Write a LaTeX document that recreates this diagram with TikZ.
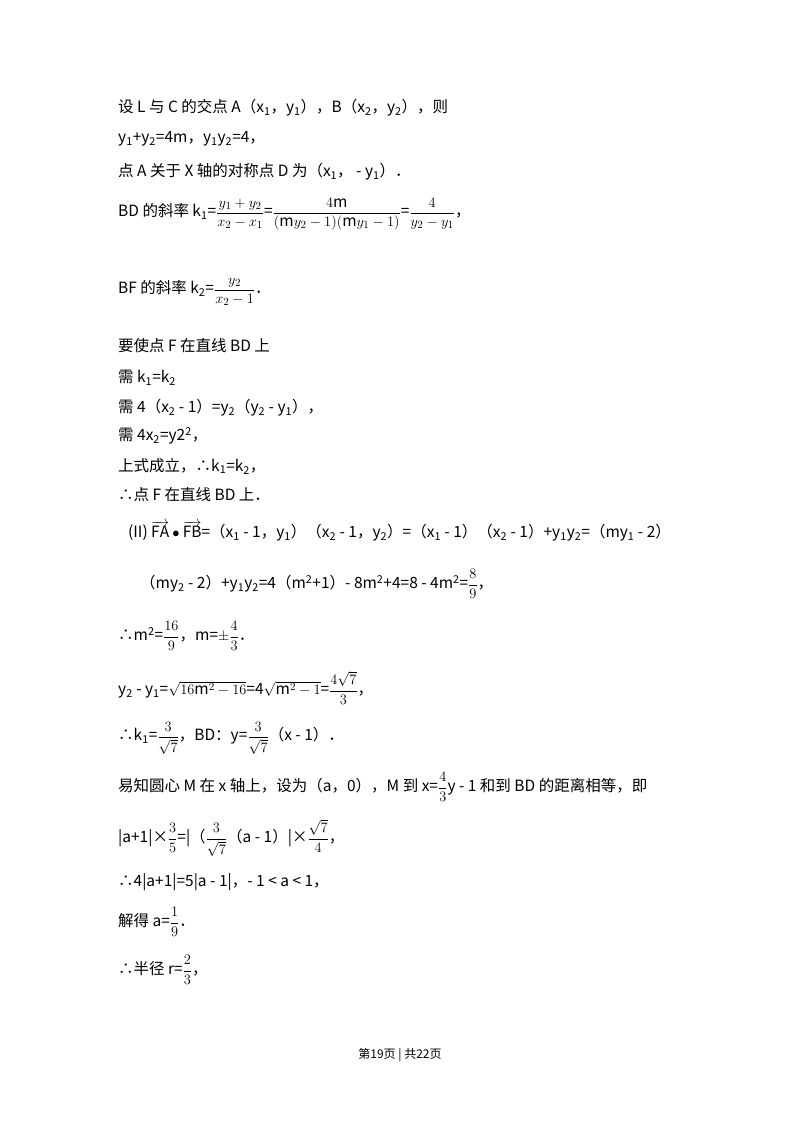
\documentclass[tikz,border=0pt]{standalone}
\usepackage{amsmath}
\usepackage{fontspec}
\setmainfont{Noto Sans CJK SC}
\newcommand\sbs[1]{\textsubscript{#1}}
\newcommand\sps[1]{\textsuperscript{#1}}
\newcommand\fr[2]{$\dfrac{#1}{#2}$}
\tikzset{ln/.style={anchor=west,inner sep=0pt,font=\fontsize{15.5}{18}\selectfont}}
\begin{document}
\begin{tikzpicture}[x=1pt,y=-1pt]
\useasboundingbox[fill=white] (0,0) rectangle (800,1132);
\node[ln] (l1) at (118,108) {设 L 与 C 的交点 A（x\sbs1，y\sbs1），B（x\sbs2，y\sbs2），则};
\node[ln] (l2) at (118,139) {y\sbs1+y\sbs2=4m，y\sbs1y\sbs2=4，};
\node[ln] (l3) at (118,172) {点 A 关于 X 轴的对称点 D 为（x\sbs1，\ - y\sbs1）．};
\node[ln] (l4) at (118,214) {BD 的斜率 k\sbs1=\fr{y_1+y_2}{x_2-x_1}=\fr{4\mathrm{m}}{(\mathrm{m}y_2-1)(\mathrm{m}y_1-1)}=\fr{4}{y_2-y_1}，};
\node[ln] (l5) at (118,292) {BF 的斜率 k\sbs2=\fr{y_2}{x_2-1}．};
\node[ln] (l6) at (118,346) {要使点 F 在直线 BD 上};
\node[ln] (l7) at (118,378) {需 k\sbs1=k\sbs2};
\node[ln] (l8) at (118,408) {需 4（x\sbs2 - 1）=y\sbs2（y\sbs2 - y\sbs1），};
\node[ln] (l9) at (118,436) {需 4x\sbs2=y2\sps2，};
\node[ln] (l10) at (118,466) {上式成立，∴k\sbs1=k\sbs2，};
\node[ln] (l11) at (118,495) {∴点 F 在直线 BD 上．};
\node[ln] (l12) at (128,531) {(II) $\overrightarrow{\mathrm{FA}}\bullet\overrightarrow{\mathrm{FB}}$=（x\sbs1 - 1，y\sbs1）（x\sbs2 - 1，y\sbs2）=（x\sbs1 - 1）（x\sbs2 - 1）+y\sbs1y\sbs2=（my\sbs1 - 2）};
\node[ln] (l13) at (140,584) {（my\sbs2 - 2）+y\sbs1y\sbs2=4（m\sps2+1）- 8m\sps2+4=8 - 4m\sps2=\fr{8}{9}，};
\node[ln] (l14) at (118,636) {∴m\sps2=\fr{16}{9}，m=$\pm$\fr{4}{3}．};
\node[ln] (l15) at (118,688) {y\sbs2 - y\sbs1=$\sqrt{16\mathrm{m}^2-16}$=4$\sqrt{\mathrm{m}^2-1}$=\fr{4\sqrt7}{3}，};
\node[ln] (l16) at (118,738) {∴k\sbs1=\fr{3}{\sqrt7}，BD：y=\fr{3}{\sqrt7}（x - 1）．};
\node[ln] (l17) at (118,787) {易知圆心 M 在 x 轴上，设为（a，0），M 到 x=\fr{4}{3}y - 1 和到 BD 的距离相等，即};
\node[ln] (l18) at (118,838) {|a+1|×\fr{3}{5}=|（\fr{3}{\sqrt7}（a - 1）|×\fr{\sqrt7}{4}，};
\node[ln] (l19) at (118,882) {∴4|a+1|=5|a - 1|，- 1 < a < 1，};
\node[ln] (l20) at (118,922) {解得 a=\fr{1}{9}．};
\node[ln] (l21) at (118,970) {∴半径 r=\fr{2}{3}，};
\node[anchor=center,inner sep=0pt,font=\fontsize{12}{14}\selectfont] (ft) at (400,1055) {第19页 | 共22页};
\end{tikzpicture}
\end{document}
